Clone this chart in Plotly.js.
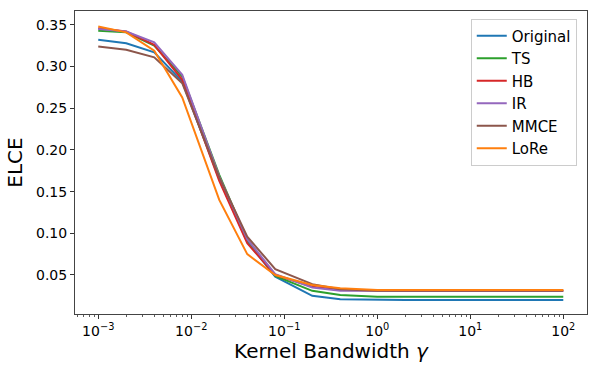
<!DOCTYPE html>
<html>
<head>
<meta charset="utf-8">
<script src="https://cdn.plot.ly/plotly-3.0.1.min.js"></script>
<style>html,body{margin:0;padding:0;background:#fff;}#chart{width:598px;height:374px;}</style>
</head>
<body>
<div id="chart"></div>
<script>
const gamma = [0.001, 0.002, 0.004, 0.008, 0.02, 0.04, 0.08, 0.2, 0.4, 1, 2, 4, 10, 20, 40, 100];
const original = [0.332, 0.328, 0.317, 0.282, 0.165, 0.090, 0.048, 0.025, 0.021, 0.020, 0.020, 0.020, 0.020, 0.020, 0.020, 0.020];
const ts       = [0.343, 0.341, 0.325, 0.288, 0.170, 0.092, 0.049, 0.031, 0.026, 0.024, 0.024, 0.024, 0.024, 0.024, 0.024, 0.024];
const hb       = [0.346, 0.342, 0.326, 0.284, 0.163, 0.088, 0.050, 0.036, 0.032, 0.031, 0.031, 0.031, 0.031, 0.031, 0.031, 0.031];
const ir       = [0.345, 0.342, 0.329, 0.290, 0.168, 0.093, 0.051, 0.035, 0.031, 0.031, 0.031, 0.031, 0.031, 0.031, 0.031, 0.031];
const mmce     = [0.324, 0.320, 0.311, 0.280, 0.167, 0.096, 0.057, 0.039, 0.033, 0.031, 0.031, 0.031, 0.031, 0.031, 0.031, 0.031];
const lore     = [0.348, 0.341, 0.319, 0.263, 0.140, 0.075, 0.050, 0.038, 0.034, 0.032, 0.032, 0.032, 0.032, 0.032, 0.032, 0.032];

const names  = ['Original', 'TS', 'HB', 'IR', 'MMCE', 'LoRe'];
const series = [original, ts, hb, ir, mmce, lore];
const colors = ['#1f77b4', '#2ca02c', '#d62728', '#9467bd', '#8c564b', '#ff7f0e'];

const xTickVals = [0.001, 0.01, 0.1, 1, 10, 100];
const xTickText = ['10<sup>−3</sup>', '10<sup>−2</sup>', '10<sup>−1</sup>', '10<sup>0</sup>', '10<sup>1</sup>', '10<sup>2</sup>'];

const minorVals = [];
for (let e = -4; e <= 2; e++) {
  for (let m = 2; m <= 9; m++) {
    const v = m * Math.pow(10, e);
    if (v > 0.00056 && v < 178) minorVals.push(v);
  }
}

const traces = names.map((n, i) => ({
  x: gamma, y: series[i], name: n, type: 'scatter', mode: 'lines',
  line: {color: colors[i], width: 2}
}));

const font = {family: 'DejaVu Sans, sans-serif', color: '#000'};
const layout = {
  width: 598, height: 374,
  margin: {l: 75, r: 11, t: 11, b: 60},
  paper_bgcolor: '#fff', plot_bgcolor: '#fff',
  font: Object.assign({size: 14}, font),
  showlegend: true,
  legend: {
    x: 0.98, y: 0.975, xanchor: 'right', yanchor: 'top',
    bgcolor: 'rgba(255,255,255,0.8)', bordercolor: '#cccccc', borderwidth: 1,
    font: Object.assign({size: 15}, font)
  },
  xaxis: {
    type: 'log', range: [-3.25, 2.255],
    tickmode: 'array', tickvals: xTickVals, ticktext: xTickText,
    ticks: 'outside', ticklen: 4, tickwidth: 1, tickcolor: '#333',
    showgrid: false, zeroline: false,
    showline: true, linecolor: '#444', linewidth: 1, mirror: true,
    tickfont: Object.assign({size: 14}, font),
    minor: {tickmode: 'array', tickvals: minorVals, ticks: 'outside', ticklen: 2, tickwidth: 0.8, tickcolor: '#333', showgrid: false},
    title: {text: 'Kernel Bandwidth <i>γ</i>', font: Object.assign({size: 20}, font), standoff: 6}
  },
  yaxis: {
    range: [0.0032, 0.3666],
    tickmode: 'linear', tick0: 0.05, dtick: 0.05, tickformat: '.2f',
    ticks: 'outside', ticklen: 4, tickwidth: 1, tickcolor: '#333',
    showgrid: false, zeroline: false,
    showline: true, linecolor: '#444', linewidth: 1, mirror: true,
    tickfont: Object.assign({size: 14}, font),
    title: {text: 'ELCE', font: Object.assign({size: 20}, font), standoff: 8}
  }
};

Plotly.newPlot('chart', traces, layout, {displayModeBar: false, staticPlot: true});
</script>
</body>
</html>
